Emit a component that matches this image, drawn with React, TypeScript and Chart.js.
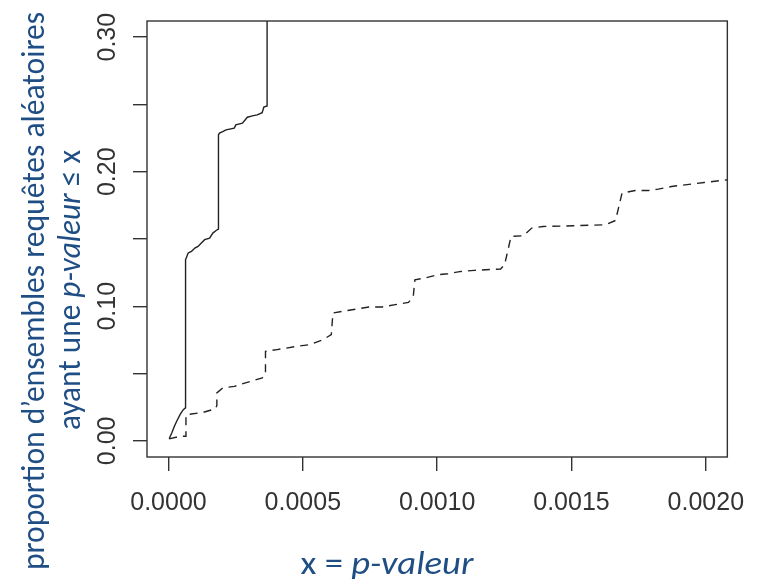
import React, { useEffect, useRef } from "react";
import { Chart, registerables } from "chart.js";

Chart.register(...registerables);

// ---- data ----
const X_TICKS = [0, 0.0005, 0.001, 0.0015, 0.002];
const Y_TICKS = [0, 0.05, 0.1, 0.15, 0.2, 0.25, 0.3];
const Y_LABELED = [0, 0.1, 0.2, 0.3];
const X_MIN = -0.00008;
const X_MAX = 0.00208;
const Y_MIN = -0.012;
const Y_MAX = 0.312;

const solidX = [
  0.0000026, 0.0000121, 0.000022, 0.0000305, 0.0000429, 0.000055, 0.0000635, 0.0000635,
  0.0000734, 0.0000855, 0.000098, 0.00011, 0.0001222, 0.0001347, 0.000153, 0.0001651,
  0.0001772, 0.000186, 0.000186, 0.0001897, 0.0002018, 0.000214, 0.0002448, 0.0002506,
  0.0002752, 0.0002936, 0.0003119, 0.0003303, 0.0003486, 0.0003549, 0.000367, 0.000367,
];
const solidY = [
  0.0015, 0.0059, 0.0108, 0.0146, 0.0195, 0.0232, 0.0245, 0.1346,
  0.1396, 0.1408, 0.1433, 0.1445, 0.147, 0.1495, 0.1507, 0.1544,
  0.1563, 0.1574, 0.2274, 0.2287, 0.2298, 0.2311, 0.2324, 0.2348,
  0.2361, 0.2405, 0.2415, 0.2422, 0.2439, 0.248, 0.2489, 0.33,
];

const dashedX = [
  0.0000026, 0.0000429, 0.000065, 0.000065, 0.0000672, 0.00013, 0.000174, 0.00018,
  0.00018, 0.000202, 0.000245, 0.000318, 0.000349, 0.000361, 0.000361, 0.000404,
  0.000477, 0.000526, 0.000575, 0.000606, 0.000612, 0.000661, 0.000746, 0.000795,
  0.000844, 0.000893, 0.000911, 0.000917, 0.000954, 0.001003, 0.00104, 0.001089,
  0.001138, 0.001236, 0.001251, 0.001275, 0.001321, 0.001352, 0.001394, 0.001505,
  0.001627, 0.001664, 0.001688, 0.001737, 0.001786, 0.001823, 0.001872, 0.001994,
  0.002081,
];
const dashedY = [
  0.0015, 0.0034, 0.0034, 0.0183, 0.0195, 0.0212, 0.0238, 0.0262,
  0.0356, 0.0393, 0.0405, 0.045, 0.0468, 0.0492, 0.0665, 0.0678,
  0.0702, 0.0715, 0.0752, 0.0789, 0.095, 0.0967, 0.0995, 0.0995,
  0.1012, 0.1029, 0.1071, 0.1197, 0.121, 0.1235, 0.1242, 0.1259,
  0.1267, 0.1277, 0.1309, 0.1519, 0.1524, 0.1581, 0.1593, 0.1598,
  0.1606, 0.1638, 0.1841, 0.186, 0.186, 0.1871, 0.189, 0.192,
  0.194,
];

type Run = { t: string; i: boolean };
const Y_TITLE_1: Run[] = [{ t: "proportion d\u2019ensembles requêtes aléatoires", i: false }];
const Y_TITLE_2: Run[] = [
  { t: "ayant une ", i: false },
  { t: "p-valeur", i: true },
  { t: " \u2264 x", i: false },
];
const X_TITLE: Run[] = [
  { t: "x = ", i: false },
  { t: "p-valeur", i: true },
];

const TITLE_COLOR = "#1F4E85";
const TITLE_FONT = "Carlito, Lato, 'Open Sans', sans-serif";
const TICK_FONT = "'Liberation Sans', Arial, sans-serif";
const INK = "#333333";

function drawRuns(
  ctx: CanvasRenderingContext2D,
  runs: Run[],
  cx: number,
  cy: number,
  size: number,
  targetWidth: number,
  rotate: boolean
) {
  ctx.save();
  ctx.translate(cx, cy);
  if (rotate) ctx.rotate(-Math.PI / 2);
  const fontFor = (r: Run) => `${r.i ? "italic " : ""}${size}px ${TITLE_FONT}`;
  const widths = runs.map((r) => {
    ctx.font = fontFor(r);
    return ctx.measureText(r.t).width;
  });
  const total = widths.reduce((a, b) => a + b, 0);
  const sx = targetWidth / total;
  ctx.scale(sx, 1);
  ctx.fillStyle = TITLE_COLOR;
  ctx.textAlign = "left";
  ctx.textBaseline = "alphabetic";
  let x = -total / 2;
  runs.forEach((r, k) => {
    ctx.font = fontFor(r);
    ctx.fillText(r.t, x, 0);
    x += widths[k];
  });
  ctx.restore();
}

const boxAndTitles = {
  id: "boxAndTitles",
  afterDraw(chart: any) {
    const { ctx, chartArea } = chart;
    ctx.save();
    ctx.strokeStyle = INK;
    ctx.lineWidth = 1.4;
    ctx.strokeRect(chartArea.left, chartArea.top, chartArea.right - chartArea.left, chartArea.bottom - chartArea.top);
    ctx.restore();
    drawRuns(ctx, Y_TITLE_1, 44, 291, 32, 558, true);
    drawRuns(ctx, Y_TITLE_2, 80, 290, 32, 280, true);
    drawRuns(ctx, X_TITLE, 387, 574, 32, 173, false);
  },
};

export default function App() {
  const ref = useRef<HTMLCanvasElement | null>(null);
  useEffect(() => {
    if (!ref.current) return;
    const chart = new Chart(ref.current, {
      type: "line",
      data: {
        datasets: [
          {
            data: solidX.map((x, k) => ({ x, y: solidY[k] })),
            borderColor: "#222222",
            borderWidth: 1.4,
            pointRadius: 0,
            fill: false,
            tension: 0,
          },
          {
            data: dashedX.map((x, k) => ({ x, y: dashedY[k] })),
            borderColor: "#222222",
            borderWidth: 1.4,
            borderDash: [8, 6],
            pointRadius: 0,
            fill: false,
            tension: 0,
          },
        ],
      },
      options: {
        animation: false,
        responsive: false,
        maintainAspectRatio: false,
        layout: { padding: { left: 0, right: 25, top: 21, bottom: 0 } },
        plugins: { legend: { display: false }, tooltip: { enabled: false }, title: { display: false } },
        scales: {
          x: {
            type: "linear",
            min: X_MIN,
            max: X_MAX,
            afterBuildTicks: (s: any) => {
              s.ticks = X_TICKS.map((v) => ({ value: v }));
            },
            afterFit: (s: any) => {
              s.height = 127;
            },
            ticks: {
              autoSkip: false,
              minRotation: 0,
              maxRotation: 0,
              padding: 17,
              color: INK,
              font: { family: TICK_FONT, size: 25 },
              callback: (v: any) => Number(v).toFixed(4),
            },
            grid: { drawOnChartArea: false, drawTicks: true, tickLength: 14, color: INK, lineWidth: 1.4 },
            border: { display: false },
          },
          y: {
            type: "linear",
            min: Y_MIN,
            max: Y_MAX,
            afterBuildTicks: (s: any) => {
              s.ticks = Y_TICKS.map((v) => ({ value: v }));
            },
            afterFit: (s: any) => {
              s.width = 147;
            },
            ticks: {
              autoSkip: false,
              minRotation: 90,
              maxRotation: 90,
              crossAlign: "center",
              padding: 1,
              color: INK,
              font: { family: TICK_FONT, size: 25 },
              callback: (v: any) =>
                Y_LABELED.some((l) => Math.abs(l - Number(v)) < 1e-9) ? Number(v).toFixed(2) : "",
            },
            grid: { drawOnChartArea: false, drawTicks: true, tickLength: 14, color: INK, lineWidth: 1.4 },
            border: { display: false },
          },
        },
      },
      plugins: [boxAndTitles],
    } as any);
    return () => chart.destroy();
  }, []);
  return (
    <div style={{ position: "fixed", left: 0, top: 0, width: 762, height: 584, background: "#fff" }}>
      <canvas ref={ref} width={762} height={584} style={{ width: 762, height: 584, display: "block" }} />
    </div>
  );
}
